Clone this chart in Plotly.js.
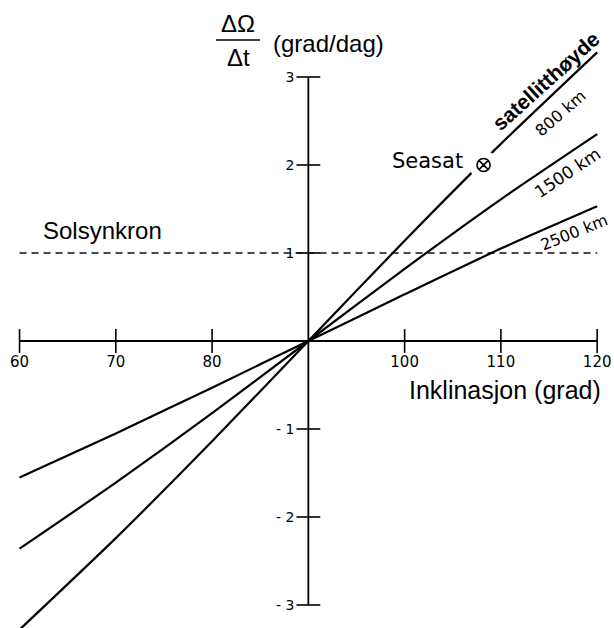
<!DOCTYPE html>
<html><head><meta charset="utf-8">
<script src="https://cdn.plot.ly/plotly-3.0.1.min.js"></script>
<style>html,body{margin:0;padding:0;background:#fff}</style>
</head><body><div id="chart" style="width:614px;height:628px"></div>
<script>
// Data
const inclination = [60, 70, 80, 90, 100, 110, 120];
const rate800  = [-3.28, -2.24, -1.14, 0, 1.14, 2.24, 3.28];
const rate1500 = [-2.36, -1.61, -0.82, 0, 0.82, 1.61, 2.35];
const rate2500 = [-1.55, -1.05, -0.53, 0, 0.53, 1.05, 1.53];
const sunSyncRate = 1;
const seasatIncl = [108.2];
const seasatRate = [2.0];

const xTickVals = [60, 70, 80, 90, 100, 110, 120];
const xTickText = ['60', '70', '80', '', '100', '110', '120'];
const yTickVals = [-3, -2, -1, 0, 1, 2, 3];
const yTickText = ['- 3', '- 2', '- 1', '', '1', '2', '3'];

const W = 614, H = 628;
const xr = [57.97, 121.75];
const yr = [-3.2614, 3.875];
const xMin = xTickVals[0], xMax = xTickVals[xTickVals.length - 1];
const yMin = yTickVals[0], yMax = yTickVals[yTickVals.length - 1];
const xOrigin = 90, yOrigin = 0;

const curveStyle = {color: '#000', width: 2.2, shape: 'spline', smoothing: 0.6};
const traces = [
  // axes lines
  {x: [xMin, xMax], y: [yOrigin, yOrigin], mode: 'lines', line: {color: '#000', width: 1.8}, hoverinfo: 'skip'},
  {x: [xOrigin, xOrigin], y: [yMin, yMax], mode: 'lines', line: {color: '#000', width: 1.8}, hoverinfo: 'skip'},
  // tick marks crossing the axes
  {x: xTickVals.filter(v => v !== xOrigin), y: xTickVals.filter(v => v !== xOrigin).map(() => yOrigin), mode: 'markers',
   marker: {symbol: 'line-ns-open', size: 17, color: '#000', line: {width: 1.6, color: '#000'}}, hoverinfo: 'skip', cliponaxis: false},
  {x: yTickVals.filter(v => v !== yOrigin).map(() => xOrigin), y: yTickVals.filter(v => v !== yOrigin), mode: 'markers',
   marker: {symbol: 'line-ew-open', size: 17, color: '#000', line: {width: 1.6, color: '#000'}}, hoverinfo: 'skip', cliponaxis: false},
  // sun-synchronous line
  {x: [xMin, xMax], y: [sunSyncRate, sunSyncRate], mode: 'lines', line: {color: '#111', width: 1.7, dash: '7px,5px'}, hoverinfo: 'skip'},
  // altitude curves
  {x: inclination, y: rate800, mode: 'lines', line: curveStyle, name: '800 km'},
  {x: inclination, y: rate1500, mode: 'lines', line: curveStyle, name: '1500 km'},
  {x: inclination, y: rate2500, mode: 'lines', line: curveStyle, name: '2500 km'},
  // Seasat: white gap then symbol
  {x: seasatIncl, y: seasatRate, mode: 'markers', marker: {symbol: 'circle', size: 29, color: '#fff'}, hoverinfo: 'skip'},
  {x: seasatIncl, y: seasatRate, mode: 'markers', marker: {symbol: 'circle-x-open', size: 13, color: '#000', line: {width: 1.6}}, name: 'Seasat'}
];

function P(px, py) { return {x: px / W, y: 1 - py / H, xref: 'paper', yref: 'paper'}; }
const arial = 'Liberation Sans, Arial, sans-serif';
const geo = 'DejaVu Sans, sans-serif';
function ann(text, px, py, size, family, angle) {
  return Object.assign(P(px, py), {text: text, showarrow: false, xanchor: 'center', yanchor: 'middle',
    textangle: angle || 0, font: {family: family, size: size, color: '#000'}});
}
const annotations = [
  ann('ΔΩ', 238, 23, 24, arial),
  ann('Δt', 238, 58, 24, arial),
  ann('(grad/dag)', 328, 43, 24, arial),
  ann('<b>satellitthøyde</b>', 545, 81, 21, arial, -42),
  ann('800 km', 560, 113, 16, geo, -41),
  ann('1500 km', 567, 173, 17, geo, -34),
  ann('2500 km', 574, 233, 16, geo, -22),
  ann('Seasat', 427, 161, 21, geo),
  ann('Solsynkron', 102, 231, 24, arial),
  ann('Inklinasjon (grad)', 505, 390, 25, arial)
];
const shapes = [
  {type: 'line', xref: 'paper', yref: 'paper', x0: 216 / W, x1: 260 / W, y0: 1 - 40 / H, y1: 1 - 40 / H, line: {color: '#000', width: 1.5}}
];

const layout = {
  width: W, height: H,
  margin: {l: 0, r: 0, t: 0, b: 0, pad: 0},
  paper_bgcolor: '#fff', plot_bgcolor: '#fff',
  showlegend: false,
  xaxis: {range: xr, showgrid: false, zeroline: false, showline: false, ticks: '',
    tickmode: 'array', tickvals: xTickVals, ticktext: xTickText,
    tickfont: {family: geo, size: 15, color: '#000'},
    anchor: 'free', position: (yOrigin - yr[0]) / (yr[1] - yr[0]), ticklabelstandoff: 10, automargin: false},
  yaxis: {range: yr, showgrid: false, zeroline: false, showline: false, ticks: '',
    tickmode: 'array', tickvals: yTickVals, ticktext: yTickText,
    tickfont: {family: geo, size: 14, color: '#000'},
    anchor: 'free', position: (xOrigin - xr[0]) / (xr[1] - xr[0]), ticklabelstandoff: 14, automargin: false},
  annotations: annotations,
  shapes: shapes
};
Plotly.newPlot('chart', traces, layout, {displayModeBar: false, staticPlot: true});
</script></body></html>
